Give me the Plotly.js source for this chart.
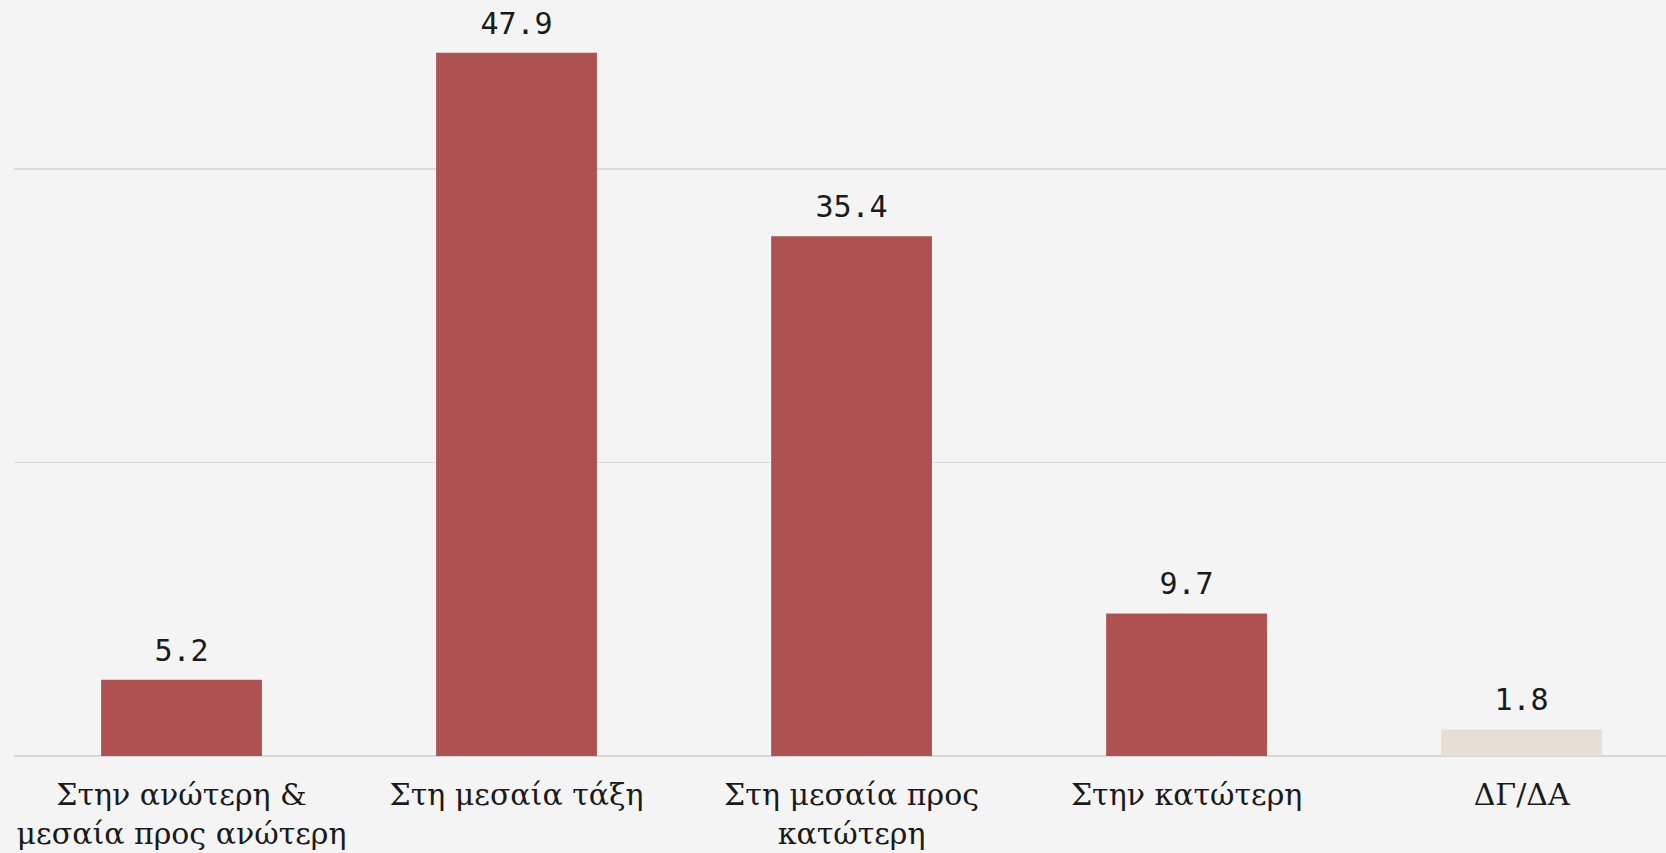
<!DOCTYPE html>
<html>
<head>
<meta charset="utf-8">
<script src="https://cdn.plot.ly/plotly-3.0.1.min.js"></script>
<style>html,body{margin:0;padding:0;background:#F4F4F4;}#chart{width:1666px;height:853px;}</style>
</head>
<body>
<div id="chart"></div>
<script>
const categories = [
  "Στην ανώτερη &<br>μεσαία προς ανώτερη",
  "Στη μεσαία τάξη",
  "Στη μεσαία προς<br>κατώτερη",
  "Στην κατώτερη",
  "ΔΓ/ΔΑ"
];
const values = [5.2, 47.9, 35.4, 9.7, 1.8];
const barColors = ["#AD5250", "#AD5250", "#AD5250", "#AD5250", "#E6DFD6"];
const valueLabels = values.map(v => v.toFixed(1));

const bars = {
  type: "bar",
  x: categories,
  y: values,
  marker: {color: barColors},
  width: 0.48,
  hoverinfo: "none"
};

const labels = {
  type: "scatter",
  mode: "markers+text",
  x: categories,
  y: values,
  text: valueLabels,
  textposition: "top center",
  marker: {size: 17, opacity: 0, color: "#000"},
  cliponaxis: false,
  textfont: {family: "DejaVu Sans Mono", size: 30, color: "#1a1a1a"},
  hoverinfo: "none"
};

const layout = {
  width: 1666, height: 853,
  paper_bgcolor: "#F4F4F4",
  plot_bgcolor: "#F4F4F4",
  margin: {l: 14, r: 0, t: 0, b: 97},
  showlegend: false,
  xaxis: {
    type: "category",
    range: [-0.5, 4.431],
    showgrid: false,
    showline: false,
    zeroline: false,
    ticks: "",
    ticklabelstandoff: 18,
    tickfont: {family: "DejaVu Serif", size: 30, color: "#1a1a1a"}
  },
  yaxis: {
    range: [0, 51.5],
    dtick: 20,
    showticklabels: false,
    showgrid: true,
    gridcolor: "#DADADA",
    gridwidth: 1.5,
    zeroline: true,
    zerolinecolor: "#D6D6D6",
    zerolinewidth: 2,
    showline: false
  }
};

Plotly.newPlot("chart", [bars, labels], layout, {displayModeBar: false, staticPlot: true});
</script>
</body>
</html>
